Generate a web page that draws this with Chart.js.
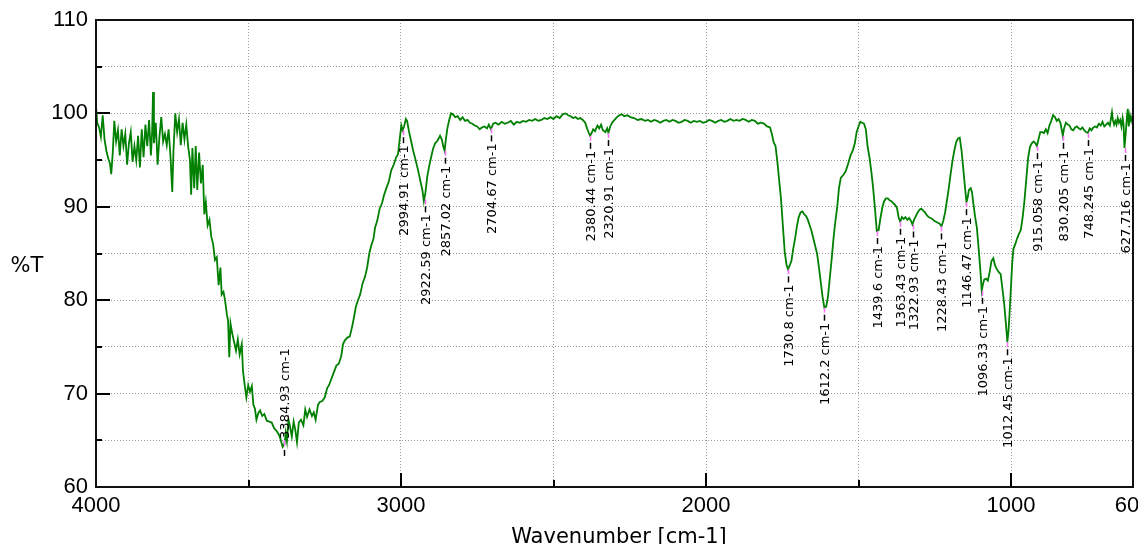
<!DOCTYPE html>
<html>
<head>
<meta charset="utf-8">
<title>FTIR spectrum</title>
<script src="https://cdn.jsdelivr.net/npm/chart.js@4.4.1/dist/chart.umd.min.js"></script>
<style>
  html, body { margin: 0; padding: 0; background: #fff; }
  #wrap { width: 1138px; height: 544px; position: relative; }
</style>
</head>
<body>
<div id="wrap"><canvas id="irChart"></canvas></div>
<script>
// spectrum (wavenumber in cm-1, %T)
const wavenumbers = [
  4000, 3996, 3990, 3984, 3978, 3972, 3966, 3960, 3954, 3950,
  3945, 3940, 3934, 3928, 3922, 3916, 3910, 3904, 3898, 3892,
  3886, 3880, 3874, 3868, 3862, 3856, 3850, 3844, 3838, 3832,
  3826, 3820, 3816, 3813, 3810, 3804, 3798, 3792, 3786, 3780,
  3774, 3768, 3762, 3756, 3750, 3746, 3740, 3734, 3728, 3722,
  3716, 3710, 3704, 3698, 3692, 3688, 3684, 3678, 3673, 3668,
  3662, 3656, 3650, 3645, 3640, 3634, 3628, 3622, 3616, 3610,
  3604, 3598, 3592, 3588, 3582, 3577, 3571, 3567, 3563, 3559,
  3553, 3547, 3541, 3535, 3529, 3522, 3518, 3512, 3507, 3501,
  3495, 3489, 3484, 3479, 3474, 3468, 3462, 3455, 3448, 3440,
  3432, 3424, 3416, 3408, 3400, 3394, 3388, 3382, 3378, 3374,
  3369, 3364, 3358, 3352, 3347, 3341, 3335, 3328, 3320, 3314,
  3308, 3300, 3292, 3286, 3280, 3272, 3266, 3258, 3250, 3242,
  3236, 3228, 3220, 3212, 3204, 3196, 3190, 3184, 3176, 3168,
  3160, 3154, 3148, 3141, 3134, 3126, 3118, 3111, 3104, 3098,
  3090, 3085, 3078, 3070, 3062, 3056, 3048, 3040, 3032, 3024,
  3016, 3010, 3004, 2999, 2995, 2990, 2984, 2980, 2974, 2968,
  2960, 2952, 2944, 2936, 2930, 2925, 2920, 2914, 2908, 2902,
  2895, 2888, 2880, 2872, 2866, 2861, 2857, 2853, 2848, 2842,
  2836, 2830, 2822, 2814, 2806, 2798, 2790, 2782, 2774, 2766,
  2758, 2750, 2742, 2734, 2726, 2718, 2712, 2705, 2698, 2690,
  2680, 2670, 2660, 2650, 2640, 2630, 2620, 2610, 2600, 2590,
  2580, 2570, 2560, 2550, 2540, 2530, 2520, 2510, 2500, 2490,
  2480, 2470, 2460, 2452, 2444, 2436, 2428, 2420, 2412, 2404,
  2396, 2390, 2384, 2380, 2375, 2370, 2364, 2356, 2350, 2344,
  2338, 2330, 2324, 2320, 2314, 2308, 2300, 2292, 2284, 2276,
  2268, 2258, 2248, 2236, 2224, 2212, 2200, 2190, 2180, 2170,
  2160, 2150, 2140, 2130, 2120, 2110, 2100, 2090, 2080, 2070,
  2060, 2050, 2040, 2030, 2020, 2010, 2000, 1990, 1980, 1970,
  1960, 1950, 1940, 1930, 1920, 1910, 1900, 1890, 1880, 1870,
  1860, 1850, 1840, 1830, 1820, 1810, 1800, 1790, 1784, 1778,
  1772, 1766, 1760, 1754, 1748, 1742, 1736, 1731, 1726, 1720,
  1714, 1708, 1702, 1696, 1690, 1684, 1678, 1672, 1666, 1660,
  1654, 1648, 1642, 1636, 1630, 1624, 1618, 1612, 1606, 1600,
  1594, 1588, 1582, 1576, 1570, 1564, 1558, 1550, 1542, 1534,
  1526, 1518, 1512, 1506, 1500, 1494, 1488, 1482, 1476, 1470,
  1464, 1458, 1452, 1446, 1440, 1434, 1428, 1422, 1416, 1410,
  1404, 1398, 1392, 1386, 1380, 1374, 1368, 1363, 1358, 1352,
  1346, 1340, 1334, 1328, 1323, 1318, 1312, 1306, 1300, 1294,
  1288, 1282, 1276, 1270, 1264, 1258, 1252, 1246, 1240, 1234,
  1228, 1222, 1216, 1210, 1204, 1198, 1192, 1186, 1180, 1174,
  1168, 1162, 1156, 1150, 1146, 1142, 1138, 1132, 1128, 1124,
  1118, 1112, 1106, 1100, 1096, 1092, 1088, 1082, 1076, 1070,
  1064, 1058, 1052, 1046, 1040, 1034, 1028, 1022, 1016, 1012,
  1008, 1004, 1000, 996, 992, 986, 980, 974, 968, 962,
  956, 950, 944, 938, 932, 926, 920, 915, 910, 904,
  898, 892, 886, 880, 874, 868, 862, 856, 850, 844,
  838, 834, 830, 826, 820, 814, 808, 802, 796, 790,
  784, 778, 772, 766, 760, 754, 748, 742, 736, 730,
  724, 718, 712, 706, 700, 694, 688, 682, 676, 669,
  666, 662, 658, 654, 650, 646, 642, 638, 634, 631,
  628, 624, 620, 617, 614, 610, 606, 603, 600
];
const transmittance = [
  100.8, 99.0, 98.5, 97.5, 99.8, 97.2, 96.0, 95.2, 94.6, 93.5,
  95.8, 99.2, 97.0, 98.2, 95.5, 98.3, 96.5, 97.8, 94.5, 96.8,
  98.0, 94.8, 96.5, 95.0, 97.6, 94.2, 98.3, 95.3, 98.8, 96.5,
  99.3, 95.5, 98.0, 102.3, 96.8, 99.0, 94.5, 97.5, 99.6, 97.0,
  97.8, 96.6, 98.3, 95.5, 91.6, 96.0, 100.0, 98.0, 99.4, 96.6,
  99.0, 97.2, 98.8, 96.5, 95.0, 91.3, 96.3, 92.0, 96.5, 91.8,
  95.8, 92.5, 94.5, 89.2, 90.5, 88.0, 88.6, 86.8, 86.0, 84.3,
  84.6, 81.6, 83.5, 80.6, 80.9, 80.0, 78.5, 77.8, 73.9, 77.5,
  76.4, 75.5, 74.6, 75.8, 74.2, 75.3, 72.4, 70.8, 69.6, 70.9,
  70.2, 70.8, 68.8, 68.4, 67.2, 67.9, 68.2, 67.6, 67.8, 67.1,
  67.0, 66.9, 66.3, 66.0, 65.6, 65.0, 64.3, 64.6, 65.8, 64.9,
  67.2, 66.5, 65.4, 67.0, 66.2, 64.8, 66.9, 67.2, 66.6, 68.3,
  67.5, 68.3, 67.6, 68.0, 67.2, 68.8, 69.1, 69.2, 69.6, 70.6,
  70.9, 71.6, 72.3, 73.0, 73.2, 74.0, 75.3, 75.7, 76.0, 76.1,
  77.2, 78.2, 79.3, 80.0, 80.6, 81.8, 82.5, 83.5, 85.0, 85.8,
  86.6, 87.8, 88.5, 89.8, 90.4, 91.2, 92.0, 92.7, 93.9, 94.5,
  95.3, 95.6, 97.3, 98.7, 98.2, 98.6, 99.4, 99.2, 98.1, 97.2,
  96.0, 95.0, 93.9, 92.7, 91.8, 90.6, 91.5, 93.2, 94.3, 95.2,
  96.2, 96.8, 97.1, 97.6, 97.2, 96.4, 96.0, 97.2, 98.4, 99.3,
  100.0, 99.9, 99.6, 99.7, 99.3, 99.6, 99.2, 99.3, 99.0, 98.9,
  98.7, 98.6, 98.3, 98.5, 98.6, 98.4, 98.8, 98.3, 98.9, 99.0,
  98.8, 99.1, 98.9, 99.0, 99.2, 98.8, 99.1, 99.0, 99.2, 99.1,
  99.3, 99.2, 99.4, 99.2, 99.3, 99.5, 99.4, 99.6, 99.4, 99.7,
  99.5, 99.9, 100.0, 99.8, 99.7, 99.5, 99.6, 99.4, 99.5, 99.3,
  99.0, 98.4, 97.9, 97.6, 97.9, 98.3, 98.1, 98.7, 98.4, 98.8,
  98.2, 98.0, 98.4, 97.9, 98.6, 99.0, 99.3, 99.6, 99.8, 99.9,
  99.7, 99.8, 99.6, 99.5, 99.3, 99.4, 99.2, 99.3, 99.1, 99.3,
  99.2, 99.0, 99.2, 99.3, 99.1, 99.3, 99.2, 99.0, 99.1, 99.3,
  99.2, 99.0, 99.2, 99.1, 99.2, 99.0, 99.1, 99.3, 99.2, 99.0,
  99.2, 99.3, 99.1, 99.2, 99.4, 99.2, 99.3, 99.2, 99.4, 99.3,
  99.1, 99.3, 99.2, 98.9, 99.0, 98.9, 98.6, 98.5, 97.8, 96.9,
  96.5, 94.8, 92.8, 90.8, 88.0, 85.2, 83.8, 83.3, 83.7, 84.2,
  85.5, 86.6, 87.9, 88.9, 89.4, 89.5, 89.2, 89.0, 88.6, 88.0,
  87.4, 86.6, 85.8, 85.0, 83.6, 82.0, 80.4, 79.2, 79.3, 80.4,
  82.4, 84.4, 86.6, 88.4, 89.9, 92.0, 93.1, 93.4, 93.8, 94.6,
  95.5, 96.1, 96.8, 98.0, 98.6, 99.1, 99.0, 98.9, 98.3, 96.4,
  95.3, 93.8, 92.0, 89.8, 87.4, 87.5, 88.8, 89.9, 90.6, 90.9,
  90.9, 90.7, 90.6, 90.4, 90.2, 89.9, 88.8, 88.4, 88.9, 88.7,
  88.9, 88.6, 88.8, 88.5, 88.1, 88.6, 89.0, 89.4, 89.7, 89.8,
  89.6, 89.4, 89.1, 88.9, 88.8, 88.7, 88.5, 88.4, 88.3, 88.2,
  87.9, 88.5, 89.4, 90.7, 92.0, 93.5, 94.9, 96.0, 96.9, 97.3,
  97.4, 96.0, 93.9, 91.8, 90.5, 91.0, 91.8, 92.0, 91.6, 90.5,
  89.0, 87.8, 85.5, 83.0, 81.0, 81.7, 82.2, 82.3, 82.1, 83.0,
  84.2, 84.5, 83.7, 83.3, 83.0, 82.8, 81.2, 79.5, 77.2, 75.5,
  76.8, 79.0, 81.5, 84.0, 85.5, 86.0, 86.6, 87.1, 87.5, 88.8,
  90.6, 92.9, 95.2, 96.4, 96.8, 97.0, 96.8, 96.5, 97.2, 98.0,
  98.0, 97.9, 98.3, 97.9, 98.7, 99.2, 99.8, 99.6, 99.2, 99.4,
  99.0, 98.3, 97.6, 98.4, 99.0, 98.8, 98.7, 98.3, 98.2, 98.5,
  98.6, 98.4, 98.3, 98.5, 98.2, 98.0, 97.9, 98.4, 98.2, 98.5,
  98.6, 98.5, 98.9, 98.7, 99.1, 98.6, 98.8, 99.0, 98.7, 100.1,
  99.3, 98.8, 99.2, 98.8, 99.5, 99.0, 99.3, 98.6, 99.5, 98.8,
  96.3, 97.8, 99.6, 100.5, 98.6, 99.8, 99.2, 99.6, 99.4
];

// axis ticks
const xTicks = [4000, 3500, 3000, 2500, 2000, 1500, 1000, 600];
const xTickLabels = [4000, 3000, 2000, 1000, 600];
const yTickLabels = [110, 100, 90, 80, 70, 60];

// picked peaks (wavenumber, %T at the mark)
const peakWn = [3384.93, 2994.91, 2922.59, 2857.02, 2704.67, 2380.44, 2320.91,
  1730.8, 1612.2, 1439.6, 1363.43, 1322.93, 1228.43, 1146.47, 1096.33, 1012.45,
  915.058, 830.205, 748.245, 627.716];
const peakT = [64.4, 98.2, 90.8, 96.0, 98.4, 97.6, 97.9,
  83.3, 79.2, 87.4, 88.4, 88.1, 87.9, 90.5, 81.0, 75.5,
  96.5, 97.6, 97.9, 96.3];
const peaksAbove = [3384.93];

const TICK_FONT = '"Liberation Sans", Arial, sans-serif';
const TEXT_FONT = '"DejaVu Sans", Verdana, sans-serif';

const points = wavenumbers.map((w, i) => ({ x: w, y: transmittance[i] }));

const spectrumDecor = {
  id: 'spectrumDecor',
  beforeDatasetsDraw(chart) {
    const { ctx, chartArea: a, scales: { x, y } } = chart;
    ctx.save();
    ctx.strokeStyle = '#000';
    ctx.lineWidth = 2;
    ctx.beginPath();
    // tick marks point inwards
    y.ticks.forEach(t => {
      if (t.value === 110 || t.value === 60) return;
      const py = Math.round(y.getPixelForValue(t.value));
      const len = yTickLabels.includes(t.value) ? 14 : 6;
      ctx.moveTo(a.left, py);
      ctx.lineTo(a.left + len, py);
    });
    x.ticks.forEach(t => {
      if (t.value === 4000 || t.value === 600) return;
      const px = Math.round(x.getPixelForValue(t.value));
      const len = xTickLabels.includes(t.value) ? 14 : 7;
      ctx.moveTo(px, a.bottom);
      ctx.lineTo(px, a.bottom - len);
    });
    ctx.stroke();
    ctx.restore();
  },
  afterDatasetsDraw(chart) {
    const { ctx, chartArea: a, scales: { x, y } } = chart;
    ctx.save();
    ctx.font = '13px ' + TEXT_FONT;
    ctx.fillStyle = '#000';
    ctx.textBaseline = 'middle';
    peakWn.forEach((w, i) => {
      const px = Math.round(x.getPixelForValue(w)) + 0.5;
      const py = y.getPixelForValue(peakT[i]);
      const above = peaksAbove.includes(w);
      ctx.lineWidth = 1.5;
      if (above) {
        ctx.strokeStyle = '#ff70ff';
        ctx.beginPath(); ctx.moveTo(px, py); ctx.lineTo(px, py - 6); ctx.stroke();
        ctx.strokeStyle = '#000';
        ctx.beginPath(); ctx.moveTo(px, py + 4); ctx.lineTo(px, py + 10); ctx.stroke();
      } else {
        ctx.strokeStyle = '#ff70ff';
        ctx.beginPath(); ctx.moveTo(px, py); ctx.lineTo(px, py + 5); ctx.stroke();
        ctx.strokeStyle = '#000';
        ctx.beginPath(); ctx.moveTo(px, py + 7); ctx.lineTo(px, py + 13); ctx.stroke();
      }
      ctx.save();
      ctx.translate(px, above ? py - 7 : py + 15);
      ctx.rotate(-Math.PI / 2);
      ctx.textAlign = above ? 'left' : 'right';
      ctx.fillText(w + ' cm-1', 0, 1);
      ctx.restore();
    });
    // frame
    ctx.strokeStyle = '#111';
    ctx.lineWidth = 2;
    ctx.strokeRect(a.left, a.top, a.right - a.left, a.bottom - a.top);
    // axis titles
    ctx.textBaseline = 'alphabetic';
    ctx.textAlign = 'center';
    ctx.font = '21px ' + TEXT_FONT;
    ctx.fillText('%T', 27, 272);
    ctx.fillText('Wavenumber [cm-1]', 619, 543);
    ctx.restore();
  }
};

const irChart = new Chart(document.getElementById('irChart'), {
  type: 'line',
  data: {
    datasets: [{
      data: points,
      borderColor: '#008000',
      borderWidth: 1.8,
      pointRadius: 0,
      tension: 0,
      fill: false
    }]
  },
  options: {
    responsive: true,
    maintainAspectRatio: false,
    animation: false,
    layout: { padding: { top: 20, right: 5, left: 0, bottom: 0 } },
    plugins: {
      legend: { display: false },
      tooltip: { enabled: false }
    },
    scales: {
      x: {
        type: 'linear',
        reverse: true,
        min: 600,
        max: 4000,
        afterBuildTicks: s => { s.ticks = xTicks.map(v => ({ value: v })); },
        afterFit: s => { s.height = 57; s.paddingLeft = 0; s.paddingRight = 0; },
        ticks: {
          callback: v => xTickLabels.includes(v) ? String(v) : '',
          autoSkip: false,
          maxRotation: 0,
          padding: 6,
          color: '#000',
          font: { family: TICK_FONT, size: 22 }
        },
        grid: { color: '#9a9a9a', lineWidth: 1, drawTicks: false },
        border: { display: false, dash: [1, 2] },
        title: { display: false }
      },
      y: {
        min: 60,
        max: 110,
        afterFit: s => { s.width = 96; s.paddingTop = 0; s.paddingBottom = 0; },
        ticks: {
          stepSize: 5,
          callback: v => yTickLabels.includes(v) ? String(v) : '',
          padding: 8,
          color: '#000',
          font: { family: TICK_FONT, size: 22 }
        },
        grid: { color: '#9a9a9a', lineWidth: 1, drawTicks: false },
        border: { display: false, dash: [1, 2] }
      }
    }
  },
  plugins: [spectrumDecor]
});
</script>
</body>
</html>
